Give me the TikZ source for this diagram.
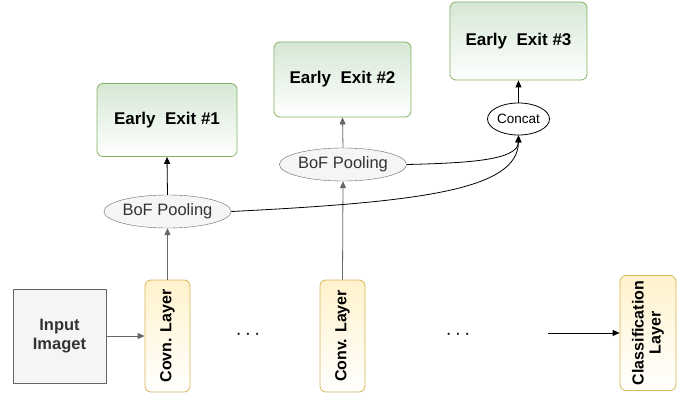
\documentclass[tikz,border=0pt]{standalone}
\usepackage{fontspec}
\setmainfont{Liberation Sans}
\usetikzlibrary{arrows.meta,shapes.geometric}
\definecolor{exitfill}{HTML}{D5E8D4}
\definecolor{exitline}{HTML}{82B366}
\definecolor{convfill}{HTML}{FFF2CC}
\definecolor{convline}{HTML}{D6B656}
\definecolor{greyfill}{HTML}{F5F5F5}
\definecolor{greyline}{HTML}{666666}
\definecolor{greytext}{HTML}{333333}
\tikzset{
  exitbox/.style={draw=exitline, rounded corners=6pt, top color=exitfill,
    bottom color=white, minimum width=140pt, minimum height=73pt,
    font=\fontsize{17}{19}\selectfont\bfseries, line width=0.8pt},
  convbox/.style={draw=convline, rounded corners=6pt, left color=convfill,
    right color=white, shading angle=0, minimum width=112pt, minimum height=45pt,
    rotate=90, font=\fontsize{16}{17}\selectfont\bfseries, align=center,
    line width=0.8pt, inner sep=1pt},
  poolnode/.style={ellipse, draw=greyline, fill=greyfill, text=greytext,
    minimum width=119pt, minimum height=33pt, inner sep=0pt,
    font=\fontsize{16.5}{18}\selectfont},
  link/.style={-{Triangle[length=7pt,width=6pt]}, line width=0.8pt},
}
\begin{document}
\begin{tikzpicture}[x=1pt,y=-1pt]
  \useasboundingbox (0,0) rectangle (686,396);

  % bottom row
  \node[draw=greyline, fill=greyfill, text=greytext, minimum width=93pt,
    minimum height=94pt, align=center, line width=0.8pt,
    font=\fontsize{16.5}{19}\selectfont\bfseries] (input) at (59.5,336)
    {Input\\Imaget};
  \node[convbox] (conv1) at (167.5,336) {Covn. Layer};
  \node[convbox] (conv2) at (342.5,336) {Conv. Layer};
  \node[convbox, minimum width=115pt, minimum height=56pt] (cls) at (648,333)
    {Classification\\Layer};
  \node (dots1) at (248,335) {\huge${\cdot}\,{\cdot}\,{\cdot}$};
  \node (dots2) at (458,335) {\huge${\cdot}\,{\cdot}\,{\cdot}$};
  \coordinate (clsin) at (548,333);

  % pooling and exits
  \node[poolnode] (bof1) at (167.5,211.5) {BoF Pooling};
  \node[poolnode] (bof2) at (343,164.5) {BoF Pooling};
  \node[ellipse, draw, fill=white, minimum width=62pt, minimum height=32pt,
    inner sep=0pt, line width=0.8pt, font=\fontsize{13.5}{15}\selectfont]
    (concat) at (518.5,119) {Concat};

  \node[exitbox] (exit1) at (167,120) {Early~~Exit \#1};
  \node[exitbox, minimum width=137pt, minimum height=75pt] (exit2) at (342.5,79.5)
    {Early~~Exit \#2};
  \node[exitbox, minimum width=137pt, minimum height=78pt] (exit3) at (518.5,41)
    {Early~~Exit \#3};

  % connectors
  \draw[link, draw=greyline] (input.east) -- (conv1.north);
  \draw[link] (clsin) -- (cls.north);
  \draw[link, draw=greyline] (conv1.east) -- (bof1.south);
  \draw[link, draw=greyline] (conv2.east) -- (bof2.south);
  \draw[link] (bof1.north) -- (exit1.south);
  \draw[link, draw=greyline] (bof2.north) -- (exit2.south);
  \draw[link] (concat.north) -- (exit3.south);
  \draw[link] (bof1.east) .. controls (420,202) and (518,190) .. (concat.south);
  \draw[link] (bof2.east) .. controls (470,163) and (518,160) .. (concat.south);
\end{tikzpicture}
\end{document}
